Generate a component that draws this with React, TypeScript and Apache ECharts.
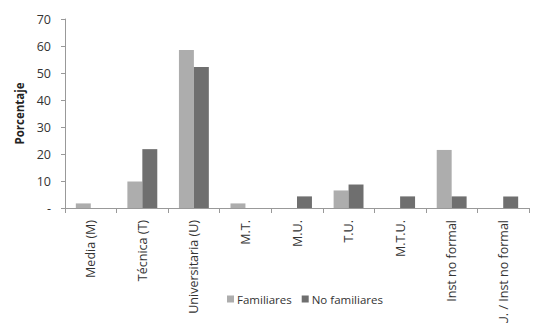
import React, { useEffect, useRef } from "react";
import * as echarts from "echarts";

const categories = [
  "Media (M)",
  "Técnica (T)",
  "Universitaria (U)",
  "M.T.",
  "M.U.",
  "T.U.",
  "M.T.U.",
  "Inst no formal",
  "M.T.U. / Inst no formal",
];
const familiares = [1.7, 9.8, 58.5, 1.7, 0, 6.5, 0, 21.5, 0];
const noFamiliares = [0, 21.8, 52.2, 0, 4.3, 8.7, 4.3, 4.3, 4.3];
const yTicks = [0, 10, 20, 30, 40, 50, 60, 70];

const FONT = "'Open Sans', 'Noto Sans', sans-serif";

export default function App() {
  const ref = useRef<HTMLDivElement>(null);
  useEffect(() => {
    if (!ref.current) return;
    const chart = echarts.init(ref.current, undefined, { renderer: "svg" });
    chart.setOption({
      animation: false,
      backgroundColor: "#ffffff",
      textStyle: { fontFamily: FONT },
      grid: { left: 65, right: 11, top: 19, bottom: 115, outerBoundsMode: "none", containLabel: false },
      legend: {
        data: ["Familiares", "No familiares"],
        left: 222,
        top: 288,
        itemWidth: 7,
        itemHeight: 7,
        itemGap: 10,
        icon: "rect",
        textStyle: { fontFamily: FONT, fontSize: 11.5, color: "#333", padding: [0, 0, 0, -2] },
      },
      xAxis: {
        type: "category",
        data: categories,
        axisLine: { lineStyle: { color: "#999", width: 1 } },
        axisTick: { show: true, length: 5, lineStyle: { color: "#999" } },
        axisLabel: {
          rotate: 90,
          interval: 0,
          margin: 12,
          fontSize: 12.5,
          color: "#333",
          fontFamily: FONT,
        },
      },
      yAxis: {
        type: "value",
        min: 0,
        max: 70,
        interval: 10,
        name: "Porcentaje",
        nameLocation: "middle",
        nameGap: 40,
        nameTextStyle: { fontFamily: FONT, fontSize: 11.5, fontWeight: "bold", color: "#222" },
        axisLine: { show: true, lineStyle: { color: "#999", width: 1 } },
        axisTick: { show: true, length: 4, lineStyle: { color: "#999" } },
        splitLine: { show: false },
        axisLabel: {
          margin: 14,
          fontSize: 12.5,
          color: "#333",
          fontFamily: FONT,
          formatter: (v: number) => (v === yTicks[0] ? "-" : String(v)),
        },
      },
      series: [
        {
          name: "Familiares",
          type: "bar",
          data: familiares,
          barGap: "0%",
          barCategoryGap: "42%",
          itemStyle: { color: "#adadad" },
        },
        {
          name: "No familiares",
          type: "bar",
          data: noFamiliares,
          barGap: "0%",
          barCategoryGap: "42%",
          itemStyle: { color: "#6f6f6f" },
        },
      ],
    });
    return () => chart.dispose();
  }, []);
  return (
    <div
      ref={ref}
      style={{ position: "absolute", left: 0, top: 0, width: 540, height: 323 }}
    />
  );
}
